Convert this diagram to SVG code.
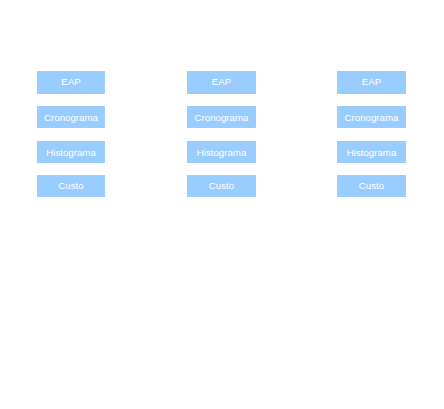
<svg xmlns="http://www.w3.org/2000/svg" width="444" height="409" viewBox="0 0 444 409">
<style>
.b{fill:#99ccff;stroke:none}
.t{fill:#ffffff;font-family:"Liberation Sans",Arial,sans-serif;font-size:9.7px;text-anchor:middle}
</style>
<rect width="444" height="409" fill="#ffffff"/>
<g id="connectors"></g>
<g id="c1-eap"><rect class="b" x="37" y="71" width="68" height="23"/><text class="t" x="71" y="85">EAP</text></g>
<g id="c1-crono"><rect class="b" x="37" y="106" width="68" height="22"/><text class="t" x="71" y="120.7">Cronograma</text></g>
<g id="c1-hist"><rect class="b" x="37" y="141" width="68" height="22"/><text class="t" x="71" y="155.7">Histograma</text></g>
<g id="c1-custo"><rect class="b" x="37" y="175" width="68" height="22"/><text class="t" x="71" y="189.2">Custo</text></g>
<g id="c2-eap"><rect class="b" x="187" y="71" width="69" height="23"/><text class="t" x="221.5" y="85">EAP</text></g>
<g id="c2-crono"><rect class="b" x="187" y="106" width="69" height="22"/><text class="t" x="221.5" y="120.7">Cronograma</text></g>
<g id="c2-hist"><rect class="b" x="187" y="141" width="69" height="22"/><text class="t" x="221.5" y="155.7">Histograma</text></g>
<g id="c2-custo"><rect class="b" x="187" y="175" width="69" height="22"/><text class="t" x="221.5" y="189.2">Custo</text></g>
<g id="c3-eap"><rect class="b" x="337" y="71" width="69" height="23"/><text class="t" x="371.5" y="85">EAP</text></g>
<g id="c3-crono"><rect class="b" x="337" y="106" width="69" height="22"/><text class="t" x="371.5" y="120.7">Cronograma</text></g>
<g id="c3-hist"><rect class="b" x="337" y="141" width="69" height="22"/><text class="t" x="371.5" y="155.7">Histograma</text></g>
<g id="c3-custo"><rect class="b" x="337" y="175" width="69" height="22"/><text class="t" x="371.5" y="189.2">Custo</text></g>
</svg>
